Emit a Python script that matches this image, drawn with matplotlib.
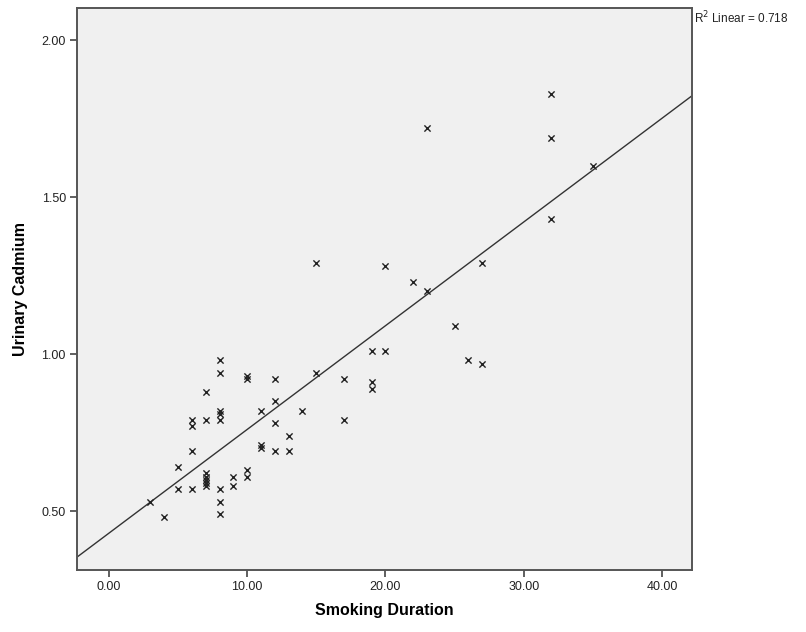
import matplotlib
matplotlib.use("Agg")
import matplotlib.pyplot as plt
import numpy as np

# smoking duration (years) vs urinary cadmium
duration = [3, 4, 5, 5, 6, 6, 6, 6, 7, 7, 7, 7, 7, 7, 7,
            8, 8, 8, 8, 8, 8, 8, 8, 9, 9, 10, 10, 10, 10,
            11, 11, 11, 12, 12, 12, 12, 13, 13, 14, 15, 15,
            17, 17, 19, 19, 19, 20, 20, 22, 23, 23, 25, 26,
            27, 27, 32, 32, 32, 35]
cadmium = [0.53, 0.48, 0.64, 0.57, 0.79, 0.77, 0.69, 0.57, 0.88, 0.79, 0.62, 0.61, 0.60, 0.59, 0.58,
           0.98, 0.94, 0.82, 0.81, 0.79, 0.57, 0.53, 0.49, 0.61, 0.58, 0.93, 0.92, 0.63, 0.61,
           0.82, 0.71, 0.70, 0.92, 0.85, 0.78, 0.69, 0.74, 0.69, 0.82, 1.29, 0.94,
           0.92, 0.79, 1.01, 0.91, 0.89, 1.28, 1.01, 1.23, 1.72, 1.20, 1.09, 0.98,
           1.29, 0.97, 1.83, 1.69, 1.43, 1.60]
xticks = [0, 10, 20, 30, 40]
yticks = [0.5, 1.0, 1.5, 2.0]

plt.rcParams['font.family'] = ['Liberation Sans', 'DejaVu Sans']

fig = plt.figure(figsize=(8.06, 6.32), dpi=100)
ax = fig.add_axes([0.0955, 0.098, 0.763, 0.889])
ax.set_facecolor('#f0f0f0')

x = np.array(duration, dtype=float)
y = np.array(cadmium)
ax.scatter(x, y, marker='x', s=20, c='#222222', linewidths=1.0, zorder=3)

xlim = (-2.31, 42.17)
slope, icpt = np.polyfit(x, y, 1)
xs = np.array(xlim)
ax.plot(xs, icpt + slope * xs, color='#333333', lw=1.0, zorder=2)

ax.set_xlim(*xlim)
ax.set_ylim(0.312, 2.102)
ax.set_xticks(xticks)
ax.set_yticks(yticks)
ax.xaxis.set_major_formatter(matplotlib.ticker.FormatStrFormatter('%.2f'))
ax.yaxis.set_major_formatter(matplotlib.ticker.FormatStrFormatter('%.2f'))
ax.tick_params(direction='out', length=5, width=1.2, color='#444444',
               labelsize=9, labelcolor='#222222', pad=3)
for s in ax.spines.values():
    s.set_color('#555555')
    s.set_linewidth(1.4)

ax.set_xlabel('Smoking Duration', fontsize=11.5, fontweight='bold', labelpad=7)
ax.set_ylabel('Urinary Cadmium', fontsize=11.5, fontweight='bold', labelpad=10)

fig.text(0.861, 0.972, 'R$^2$ Linear = 0.718', fontsize=8.5, color='#222222',
         ha='left', va='center')

fig.savefig('out.png', dpi=100)
